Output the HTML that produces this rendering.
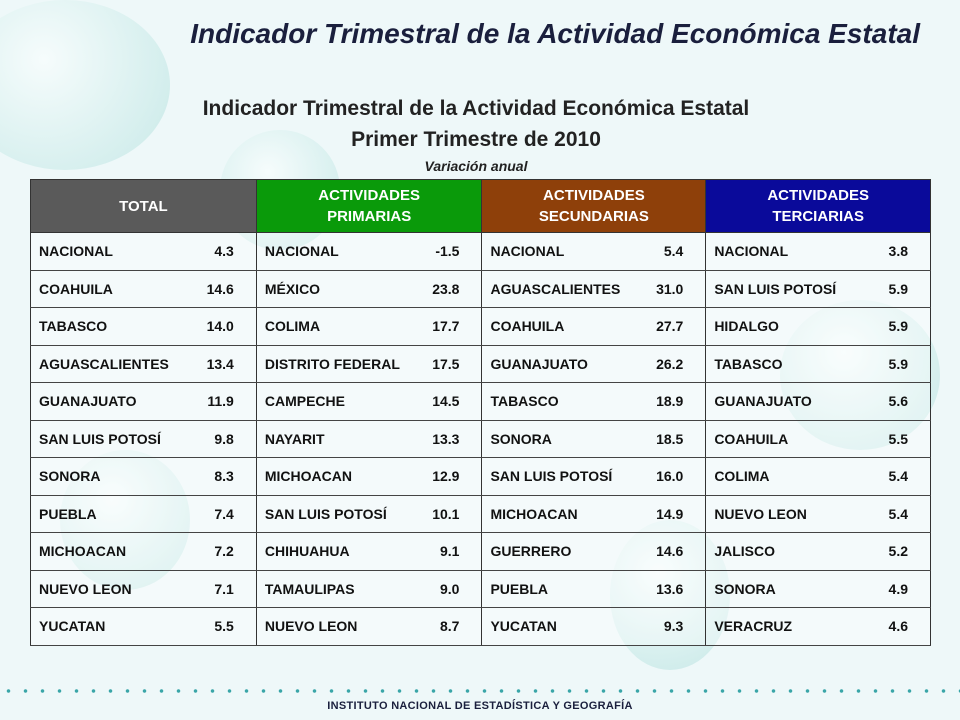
<!DOCTYPE html>
<html><head><meta charset="utf-8"><style>
body{margin:0;width:960px;height:720px;overflow:hidden;background:#eef8f9;font-family:"Liberation Sans",sans-serif;position:relative}
.bub{position:absolute;border-radius:50%;background:radial-gradient(circle at 40% 35%,#f6fcfc,#d6efee 70%,#c8e8e7)}
.t{position:absolute;white-space:nowrap}
table{position:absolute;left:30px;top:179px;width:901px;border-collapse:collapse;font-size:14px;font-weight:bold;color:#111}
td{border-left:1px solid #333;border-right:1px solid #333;height:36.5px;padding:0 8px;border-bottom:1px solid #444;box-sizing:border-box}
td.n{border-right:none;text-align:left}
td.v{border-left:none;text-align:right;padding-right:22px}
th{height:53px;box-sizing:border-box;color:#fff;font-size:15px;font-weight:bold;border:1px solid #333;line-height:21px;padding:0}
tr.body td{background:rgba(255,255,255,0.35);height:37.5px}
</style></head><body>
<div class="bub" style="left:-40px;top:0px;width:210px;height:170px"></div>
<div class="bub" style="left:220px;top:130px;width:120px;height:120px"></div>
<div class="bub" style="left:780px;top:300px;width:160px;height:150px"></div>
<div class="bub" style="left:610px;top:520px;width:120px;height:150px"></div>
<div class="bub" style="left:60px;top:450px;width:130px;height:140px"></div>
<div class="t" style="right:40px;top:18px;font-size:28px;font-weight:bold;font-style:italic;color:#1a1f3d">Indicador Trimestral de la Actividad Económica Estatal</div>
<div class="t" style="left:0;width:952px;text-align:center;top:97px;font-size:21px;font-weight:bold;color:#222">Indicador Trimestral de la Actividad Económica Estatal</div>
<div class="t" style="left:0;width:952px;text-align:center;top:128px;font-size:21px;font-weight:bold;color:#222">Primer Trimestre de 2010</div>
<div class="t" style="left:0;width:952px;text-align:center;top:158px;font-size:14px;font-weight:bold;font-style:italic;color:#222">Variación anual</div>
<table>
<colgroup><col style="width:160px"><col style="width:66px"><col style="width:160px"><col style="width:66px"><col style="width:160px"><col style="width:64px"><col style="width:160px"><col style="width:65px"></colgroup>
<tr><th colspan="2" style="background:#5a5a5a">TOTAL</th><th colspan="2" style="background:#0a9a0a">ACTIVIDADES<br>PRIMARIAS</th><th colspan="2" style="background:#8e400a">ACTIVIDADES<br>SECUNDARIAS</th><th colspan="2" style="background:#0a0a9a">ACTIVIDADES<br>TERCIARIAS</th></tr>
<tbody id="tb"></tbody>
</table>
<div class="t" style="left:0;top:688px;width:960px;height:6px;background:radial-gradient(circle,#3aa6a8 1.5px,transparent 2px) 0 0/17px 6px"></div>
<div class="t" style="left:0;width:960px;text-align:center;top:700px;font-size:11px;font-weight:bold;color:#1a1f3d;letter-spacing:0.3px">INSTITUTO NACIONAL DE ESTADÍSTICA Y GEOGRAFÍA</div>
<script>
const total=[["NACIONAL","4.3"],["COAHUILA","14.6"],["TABASCO","14.0"],["AGUASCALIENTES","13.4"],["GUANAJUATO","11.9"],["SAN LUIS POTOSÍ","9.8"],["SONORA","8.3"],["PUEBLA","7.4"],["MICHOACAN","7.2"],["NUEVO LEON","7.1"],["YUCATAN","5.5"]];
const prim=[["NACIONAL","-1.5"],["MÉXICO","23.8"],["COLIMA","17.7"],["DISTRITO FEDERAL","17.5"],["CAMPECHE","14.5"],["NAYARIT","13.3"],["MICHOACAN","12.9"],["SAN LUIS POTOSÍ","10.1"],["CHIHUAHUA","9.1"],["TAMAULIPAS","9.0"],["NUEVO LEON","8.7"]];
const sec=[["NACIONAL","5.4"],["AGUASCALIENTES","31.0"],["COAHUILA","27.7"],["GUANAJUATO","26.2"],["TABASCO","18.9"],["SONORA","18.5"],["SAN LUIS POTOSÍ","16.0"],["MICHOACAN","14.9"],["GUERRERO","14.6"],["PUEBLA","13.6"],["YUCATAN","9.3"]];
const ter=[["NACIONAL","3.8"],["SAN LUIS POTOSÍ","5.9"],["HIDALGO","5.9"],["TABASCO","5.9"],["GUANAJUATO","5.6"],["COAHUILA","5.5"],["COLIMA","5.4"],["NUEVO LEON","5.4"],["JALISCO","5.2"],["SONORA","4.9"],["VERACRUZ","4.6"]];
const tb=document.getElementById('tb');
for(let i=0;i<11;i++){
 const tr=document.createElement('tr');tr.className='body';
 
 
 [total,prim,sec,ter].forEach(a=>{
  const n=document.createElement('td');n.className='n';n.textContent=a[i][0];
  
  
  const v=document.createElement('td');v.className='v';v.textContent=a[i][1];
  
  
  tr.appendChild(n);tr.appendChild(v);
 });
 tb.appendChild(tr);
}
</script>
</body></html>
